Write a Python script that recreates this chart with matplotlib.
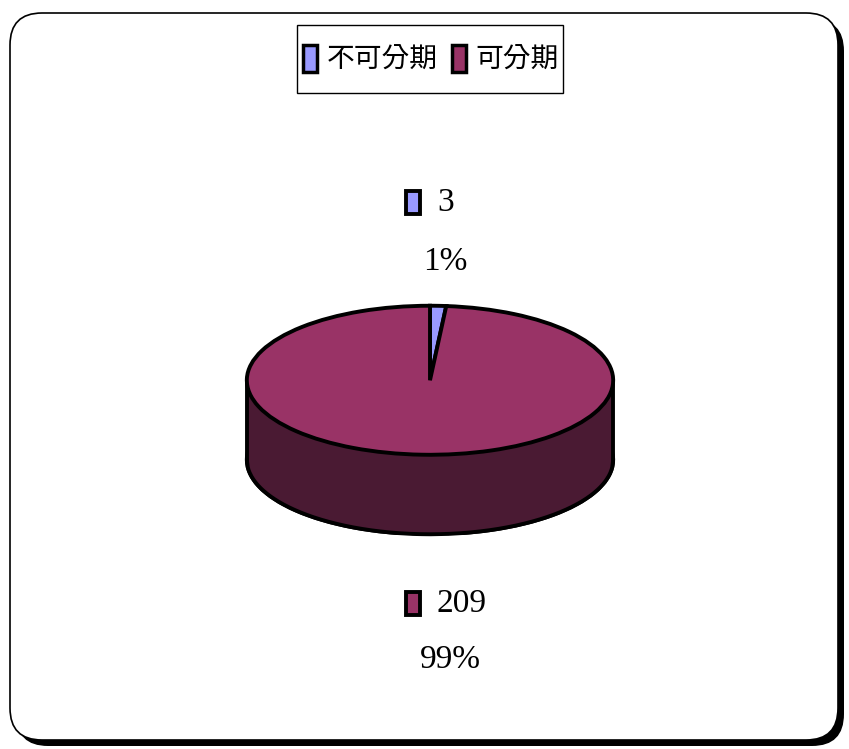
import numpy as np
import matplotlib
matplotlib.use("Agg")
import matplotlib.pyplot as plt
from matplotlib.patches import FancyBboxPatch, Rectangle

categories = ["不可分期", "可分期"]
values = [3, 209]
top_colors = ["#9999FF", "#993366"]
side_colors = ["#4D4D80", "#4A1A33"]

W, H = 849, 749
fig = plt.figure(figsize=(W / 100, H / 100), dpi=100)
fig.patch.set_facecolor("white")

# background axes in pixel coordinates
bg = fig.add_axes([0, 0, 1, 1])
bg.set_xlim(0, W)
bg.set_ylim(H, 0)
bg.axis("off")

# shadow + rounded frame
shadow = FancyBboxPatch((16, 19), 828, 727, boxstyle="round,pad=0,rounding_size=32",
                        facecolor="black", edgecolor="black", lw=0)
bg.add_patch(shadow)
frame = FancyBboxPatch((10, 13), 828, 727, boxstyle="round,pad=0,rounding_size=32",
                       facecolor="white", edgecolor="black", lw=1.2)
bg.add_patch(frame)

# pie axes: x covers 245..615 px, y covers 305..535 px
px0, px1, py0, py1 = 245, 615, 305, 535
ry_px = 75.0
ax = fig.add_axes([px0 / W, 1 - py1 / H, (px1 - px0) / W, (py1 - py0) / H])
ax.axis("off")
ylo = 1 - (py1 - py0) / ry_px
depth = -(ylo + 1)  # bottom ellipse center offset

lw = 2.8
# side (bottom) pie
ax.pie(values, colors=side_colors, startangle=90, counterclock=False,
       center=(0, -depth), radius=1,
       wedgeprops=dict(edgecolor="black", linewidth=lw))
# front wall
xs = np.linspace(-1, 1, 400)
ytop = -np.sqrt(np.clip(1 - xs ** 2, 0, None))
ax.fill_between(xs, ytop, ytop - depth, facecolor=side_colors[1], edgecolor="none", zorder=2)
ax.plot(xs, ytop - depth, color="black", lw=lw, zorder=3)
ax.plot([-1, -1], [0, -depth], color="black", lw=lw, zorder=3)
ax.plot([1, 1], [0, -depth], color="black", lw=lw, zorder=3)
# top pie
wedges, _ = ax.pie(values, colors=top_colors, startangle=90, counterclock=False,
                   center=(0, 0), radius=1,
                   wedgeprops=dict(edgecolor="black", linewidth=lw, zorder=4))
ax.set_aspect("auto")
ax.set_xlim(-1.01, 1.01)
ax.set_ylim(ylo - 0.01, 1.01)

# legend (frame drawn separately)
bg.add_patch(Rectangle((297, 25), 266, 68, facecolor="white", edgecolor="black", lw=1.0, zorder=1))
handles = [Rectangle((0, 0), 1, 1, facecolor=c, edgecolor="black", lw=2.5) for c in top_colors]
leg = fig.legend(handles, categories, loc="center", bbox_to_anchor=(431 / W, 1 - 60 / H),
                 ncol=2, frameon=False,
                 prop={"family": ["Noto Sans CJK TC", "DejaVu Sans"], "size": 20},
                 handlelength=0.5, handleheight=1.1, handletextpad=0.35, columnspacing=0.5,
                 borderpad=0.2, borderaxespad=0)

# data labels
total = sum(values)
label_pos = [(413, 203, 262, 445), (413, 604, 660, 450)]
for v, c, (mx, y1, y2, cx) in zip(values, top_colors, label_pos):
    bg.add_patch(Rectangle((mx - 7, y1 - 12), 14, 23, facecolor=c, edgecolor="black", lw=2.8))
    bg.text(mx + 24, y1, f"{v}", ha="left", va="center", fontsize=24,
            family="Liberation Serif")
    bg.text(cx, y2, f"{round(100 * v / total)}%", ha="center", va="center", fontsize=24,
            family="Liberation Serif")

fig.savefig("out.png", dpi=100)
